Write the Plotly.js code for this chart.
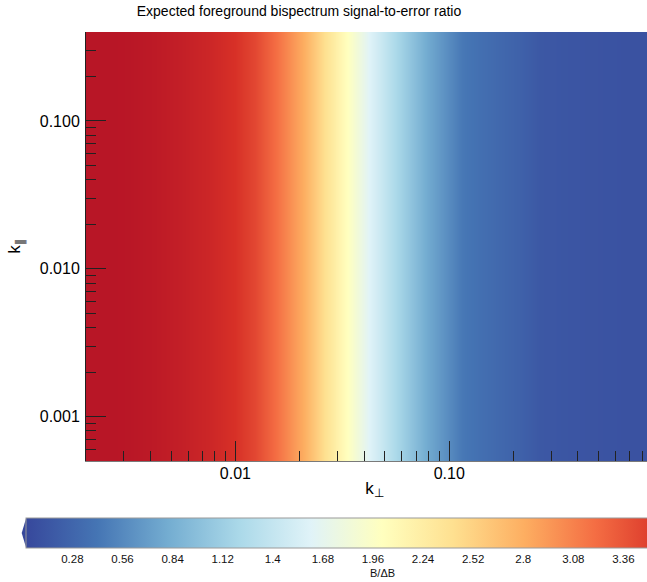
<!DOCTYPE html>
<html>
<head>
<meta charset="utf-8">
<script src="https://cdn.plot.ly/plotly-3.0.1.min.js"></script>
<style>
  html, body { margin: 0; padding: 0; overflow: hidden; background: #fff; }
  #chart { width: 760px; height: 582px; }
</style>
</head>
<body>
<div id="chart"></div>
<script>
// ---- data ----
// k_perp sample positions and the signal-to-error ratio B/ΔB at each
const kPerp = [0.002, 0.003, 0.004, 0.0055, 0.0076, 0.010, 0.0124, 0.0154, 0.018, 0.021,
               0.0263, 0.0337, 0.0427, 0.057, 0.079, 0.115, 0.143, 0.174, 0.217, 0.267,
               0.41, 0.65, 1.0];
const ratio = [3.88, 3.87, 3.84, 3.78, 3.70, 3.60, 3.45, 3.20, 3.00, 2.80,
               2.40, 2.00, 1.60, 1.20, 0.80, 0.44, 0.36, 0.30, 0.24, 0.16,
               0.13, 0.11, 0.10];
// k_parallel extent (ratio does not depend on k_parallel)
const kPar = [0.0005, 0.4];

// tick labels
const xTickVals = [0.01, 0.1];
const xTickText = ['0.01', '0.10'];
const xMinorVals = [0.002,0.003,0.004,0.005,0.006,0.007,0.008,0.009,
                    0.02,0.03,0.04,0.05,0.06,0.07,0.08,0.09,
                    0.2,0.3,0.4,0.5,0.6,0.7,0.8,0.9];
const yTickVals = [0.001, 0.01, 0.1];
const yTickText = ['0.001', '0.010', '0.100'];
const yMinorVals = [0.0005,0.0006,0.0007,0.0008,0.0009,
                    0.002,0.003,0.004,0.005,0.006,0.007,0.008,0.009,
                    0.02,0.03,0.04,0.05,0.06,0.07,0.08,0.09,
                    0.2,0.3,0.4];
const cbTickVals = [0.28, 0.56, 0.84, 1.12, 1.4, 1.68, 1.96, 2.24, 2.52, 2.8, 3.08, 3.36];
const cbTickText = ['0.28','0.56','0.84','1.12','1.4','1.68','1.96','2.24','2.52','2.8','3.08','3.36'];

const colorscale = [
  [0.0, 'rgb(55,72,156)'],
  [0.1, '#4575b4'],
  [0.2, '#74add1'],
  [0.3, '#abd9e9'],
  [0.4, '#e0f3f8'],
  [0.5, '#ffffbf'],
  [0.6, '#fee090'],
  [0.7, '#fdae61'],
  [0.8, '#f46d43'],
  [0.9, '#d73027'],
  [1.0, 'rgb(170,10,38)']
];

const z = kPar.map(() => ratio.slice());

const FONT = 'Liberation Sans, Arial, Helvetica, sans-serif';

// plot-area geometry helpers (pixels -> paper fractions)
const L = 86, W = 577, T = 32, H = 429;
const pxToPaperX = px => (px - L) / W;
const pxToPaperY = py => (T + H - py) / H;

const trace = {
  type: 'heatmap',
  x: kPerp,
  y: kPar,
  z: z,
  zsmooth: 'best',
  colorscale: colorscale,
  zmin: 0.02,
  zmax: 4.0,
  hoverinfo: 'skip',
  colorbar: {
    orientation: 'h',
    xref: 'paper', yref: 'paper',
    x: pxToPaperX(381.9), xanchor: 'center',
    y: pxToPaperY(518), yanchor: 'top',
    lenmode: 'pixels', len: 712,
    thickness: 30,
    xpad: 0, ypad: 0,
    outlinewidth: 1, outlinecolor: '#9a9a9a',
    ticks: '',
    tickmode: 'array',
    tickvals: cbTickVals,
    ticktext: cbTickText,
    tickfont: { family: FONT, size: 11.5, color: '#111' }
  }
};

// extend-min triangle of the colorbar (decoration)
const tri = {
  type: 'path', xref: 'paper', yref: 'paper',
  path: 'M ' + pxToPaperX(21.7) + ' ' + pxToPaperY(533) +
        ' L ' + pxToPaperX(26.2) + ' ' + pxToPaperY(518) +
        ' L ' + pxToPaperX(26.2) + ' ' + pxToPaperY(548) + ' Z',
  fillcolor: 'rgb(55,72,156)', line: { width: 0 }
};

const layout = {
  width: 760, height: 582,
  margin: { l: L, r: 760 - L - W, t: T, b: 582 - T - H, pad: 0, autoexpand: false },
  paper_bgcolor: '#fff', plot_bgcolor: '#fff',
  font: { family: FONT, color: '#000' },
  title: {
    text: 'Expected foreground bispectrum signal-to-error ratio',
    font: { family: FONT, size: 14, color: '#000' },
    xref: 'container', yref: 'container',
    x: 299 / 760, xanchor: 'center',
    y: 1 - 11.5 / 582, yanchor: 'middle'
  },
  xaxis: {
    type: 'log',
    range: [Math.log10(0.002), Math.log10(1.0)],
    tickmode: 'array', tickvals: xTickVals, ticktext: xTickText,
    ticks: 'inside', ticklen: 20, tickwidth: 1, tickcolor: '#222',
    minor: { tickmode: 'array', tickvals: xMinorVals, ticks: 'inside', ticklen: 10, tickwidth: 1, tickcolor: '#222', showgrid: false },
    showgrid: false, zeroline: false,
    showline: true, linecolor: '#7a7a7a', linewidth: 1,
    ticklabelstandoff: -2,
    tickfont: { family: FONT, size: 16, color: '#000' },
    title: { text: 'k<sub>⊥</sub>', font: { family: FONT, size: 17, color: '#000' }, standoff: 0 }
  },
  yaxis: {
    type: 'log',
    range: [Math.log10(0.0005), Math.log10(0.4)],
    tickmode: 'array', tickvals: yTickVals, ticktext: yTickText,
    ticks: 'inside', ticklen: 20, tickwidth: 1, tickcolor: '#222',
    minor: { tickmode: 'array', tickvals: yMinorVals, ticks: 'inside', ticklen: 10, tickwidth: 1, tickcolor: '#222', showgrid: false },
    showgrid: false, zeroline: false,
    showline: true, linecolor: '#222', linewidth: 1,
    ticklabelstandoff: 2,
    tickfont: { family: FONT, size: 16, color: '#000' },
    title: { text: 'k<sub>∥</sub>', font: { family: FONT, size: 17, color: '#000' }, standoff: 14 }
  },
  shapes: [tri],
  annotations: [{
    text: 'B/ΔB', showarrow: false,
    xref: 'paper', yref: 'paper',
    x: pxToPaperX(382), y: pxToPaperY(572.5),
    xanchor: 'center', yanchor: 'middle',
    font: { family: FONT, size: 11, color: '#111' }
  }]
};

Plotly.newPlot('chart', [trace], layout, { displayModeBar: false, staticPlot: true });
</script>
</body>
</html>
